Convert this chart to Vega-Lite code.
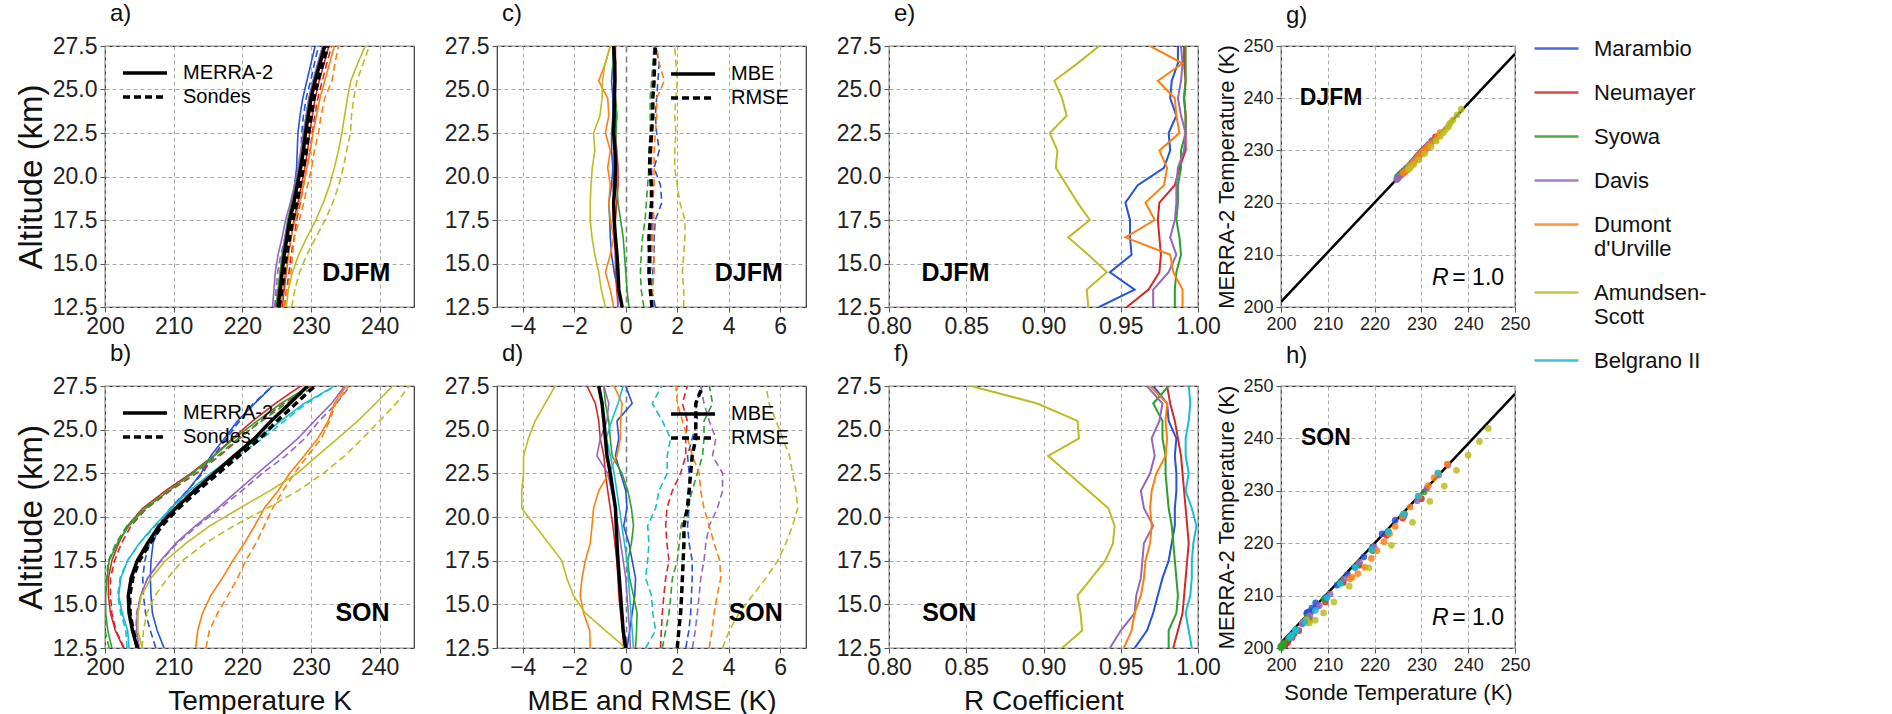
{
"$schema": "https://vega.github.io/schema/vega-lite/v6.json",
"background": "white",
"padding": {"left": 14, "top": 1, "right": 5, "bottom": 2},
"autosize": {"type": "pad"},
"datasets": {
"fit": [{"sx": 200, "fit": 201.0}, {"sx": 250, "fit": 248.5}],
"prof": [
{"season":"DJFM","station":"Marambio","alt":12.5,"merra":225.3,"sonde":225.4,"mbe":-0.14,"rmse":1.15,"r":0.936},
{"season":"DJFM","station":"Marambio","alt":13.5,"merra":225.5,"sonde":225.8,"mbe":-0.3,"rmse":1.0,"r":0.959},
{"season":"DJFM","station":"Marambio","alt":14.5,"merra":225.7,"sonde":226.15,"mbe":-0.45,"rmse":1.05,"r":0.943},
{"season":"DJFM","station":"Marambio","alt":15.5,"merra":226.0,"sonde":226.55,"mbe":-0.55,"rmse":1.1,"r":0.957},
{"season":"DJFM","station":"Marambio","alt":16.5,"merra":226.3,"sonde":226.9,"mbe":-0.6,"rmse":1.1,"r":0.956},
{"season":"DJFM","station":"Marambio","alt":17.5,"merra":226.7,"sonde":227.3,"mbe":-0.62,"rmse":1.15,"r":0.956},
{"season":"DJFM","station":"Marambio","alt":18.5,"merra":227.2,"sonde":227.85,"mbe":-0.66,"rmse":1.4,"r":0.953},
{"season":"DJFM","station":"Marambio","alt":19.5,"merra":227.6,"sonde":228.15,"mbe":-0.55,"rmse":1.35,"r":0.961},
{"season":"DJFM","station":"Marambio","alt":20.5,"merra":227.9,"sonde":228.4,"mbe":-0.5,"rmse":1.1,"r":0.978},
{"season":"DJFM","station":"Marambio","alt":21.5,"merra":228.0,"sonde":228.55,"mbe":-0.55,"rmse":1.3,"r":0.982},
{"season":"DJFM","station":"Marambio","alt":22.5,"merra":228.1,"sonde":228.65,"mbe":-0.55,"rmse":1.2,"r":0.981},
{"season":"DJFM","station":"Marambio","alt":23.5,"merra":228.4,"sonde":228.9,"mbe":-0.5,"rmse":1.15,"r":0.986},
{"season":"DJFM","station":"Marambio","alt":24.5,"merra":228.8,"sonde":229.3,"mbe":-0.5,"rmse":1.2,"r":0.982},
{"season":"DJFM","station":"Marambio","alt":25.5,"merra":229.4,"sonde":229.95,"mbe":-0.55,"rmse":1.25,"r":0.983},
{"season":"DJFM","station":"Marambio","alt":26.5,"merra":230.0,"sonde":230.5,"mbe":-0.5,"rmse":1.3,"r":0.987},
{"season":"DJFM","station":"Marambio","alt":27.5,"merra":230.6,"sonde":231.1,"mbe":-0.5,"rmse":1.15,"r":0.987},
{"season":"DJFM","station":"Neumayer","alt":12.5,"merra":225.8,"sonde":226.1,"mbe":-0.3,"rmse":1.0,"r":0.954},
{"season":"DJFM","station":"Neumayer","alt":13.5,"merra":226.1,"sonde":226.45,"mbe":-0.35,"rmse":0.95,"r":0.968},
{"season":"DJFM","station":"Neumayer","alt":14.5,"merra":226.4,"sonde":226.8,"mbe":-0.4,"rmse":0.95,"r":0.975},
{"season":"DJFM","station":"Neumayer","alt":15.5,"merra":226.7,"sonde":227.1,"mbe":-0.4,"rmse":1.0,"r":0.976},
{"season":"DJFM","station":"Neumayer","alt":16.5,"merra":227.1,"sonde":227.55,"mbe":-0.45,"rmse":1.0,"r":0.975},
{"season":"DJFM","station":"Neumayer","alt":17.5,"merra":227.5,"sonde":227.9,"mbe":-0.4,"rmse":1.05,"r":0.974},
{"season":"DJFM","station":"Neumayer","alt":18.5,"merra":228.1,"sonde":228.45,"mbe":-0.35,"rmse":1.0,"r":0.975},
{"season":"DJFM","station":"Neumayer","alt":19.5,"merra":228.6,"sonde":228.9,"mbe":-0.3,"rmse":0.95,"r":0.985},
{"season":"DJFM","station":"Neumayer","alt":20.5,"merra":229.1,"sonde":229.4,"mbe":-0.3,"rmse":1.0,"r":0.988},
{"season":"DJFM","station":"Neumayer","alt":21.5,"merra":229.5,"sonde":229.85,"mbe":-0.35,"rmse":1.0,"r":0.992},
{"season":"DJFM","station":"Neumayer","alt":22.5,"merra":229.8,"sonde":230.2,"mbe":-0.4,"rmse":1.05,"r":0.992},
{"season":"DJFM","station":"Neumayer","alt":23.5,"merra":230.2,"sonde":230.55,"mbe":-0.35,"rmse":1.0,"r":0.992},
{"season":"DJFM","station":"Neumayer","alt":24.5,"merra":230.6,"sonde":231.0,"mbe":-0.4,"rmse":1.05,"r":0.991},
{"season":"DJFM","station":"Neumayer","alt":25.5,"merra":231.2,"sonde":231.65,"mbe":-0.45,"rmse":1.1,"r":0.992},
{"season":"DJFM","station":"Neumayer","alt":26.5,"merra":231.9,"sonde":232.3,"mbe":-0.4,"rmse":1.1,"r":0.991},
{"season":"DJFM","station":"Neumayer","alt":27.5,"merra":232.6,"sonde":233.0,"mbe":-0.4,"rmse":1.1,"r":0.991},
{"season":"DJFM","station":"Syowa","alt":12.5,"merra":224.9,"sonde":224.8,"mbe":0.12,"rmse":0.7,"r":0.985},
{"season":"DJFM","station":"Syowa","alt":13.5,"merra":225.2,"sonde":225.15,"mbe":0.05,"rmse":0.6,"r":0.985},
{"season":"DJFM","station":"Syowa","alt":14.5,"merra":225.5,"sonde":225.5,"mbe":0.0,"rmse":0.57,"r":0.986},
{"season":"DJFM","station":"Syowa","alt":15.5,"merra":225.8,"sonde":225.85,"mbe":-0.05,"rmse":0.6,"r":0.989},
{"season":"DJFM","station":"Syowa","alt":16.5,"merra":226.2,"sonde":226.3,"mbe":-0.1,"rmse":0.65,"r":0.988},
{"season":"DJFM","station":"Syowa","alt":17.5,"merra":226.6,"sonde":226.8,"mbe":-0.2,"rmse":0.75,"r":0.986},
{"season":"DJFM","station":"Syowa","alt":18.5,"merra":227.2,"sonde":227.5,"mbe":-0.3,"rmse":0.8,"r":0.987},
{"season":"DJFM","station":"Syowa","alt":19.5,"merra":227.7,"sonde":228.05,"mbe":-0.35,"rmse":0.85,"r":0.987},
{"season":"DJFM","station":"Syowa","alt":20.5,"merra":228.2,"sonde":228.6,"mbe":-0.4,"rmse":0.9,"r":0.989},
{"season":"DJFM","station":"Syowa","alt":21.5,"merra":228.6,"sonde":229.0,"mbe":-0.4,"rmse":0.9,"r":0.989},
{"season":"DJFM","station":"Syowa","alt":22.5,"merra":228.9,"sonde":229.3,"mbe":-0.38,"rmse":0.95,"r":0.992},
{"season":"DJFM","station":"Syowa","alt":23.5,"merra":229.3,"sonde":229.65,"mbe":-0.35,"rmse":0.95,"r":0.992},
{"season":"DJFM","station":"Syowa","alt":24.5,"merra":229.7,"sonde":230.1,"mbe":-0.4,"rmse":0.95,"r":0.991},
{"season":"DJFM","station":"Syowa","alt":25.5,"merra":230.3,"sonde":230.75,"mbe":-0.45,"rmse":1.0,"r":0.992},
{"season":"DJFM","station":"Syowa","alt":26.5,"merra":231.0,"sonde":231.5,"mbe":-0.5,"rmse":1.05,"r":0.992},
{"season":"DJFM","station":"Syowa","alt":27.5,"merra":231.7,"sonde":232.2,"mbe":-0.47,"rmse":1.1,"r":0.992},
{"season":"DJFM","station":"Davis","alt":12.5,"merra":224.4,"sonde":224.7,"mbe":-0.3,"rmse":1.0,"r":0.971},
{"season":"DJFM","station":"Davis","alt":13.5,"merra":224.6,"sonde":224.9,"mbe":-0.3,"rmse":1.0,"r":0.971},
{"season":"DJFM","station":"Davis","alt":14.5,"merra":224.8,"sonde":225.15,"mbe":-0.35,"rmse":0.95,"r":0.981},
{"season":"DJFM","station":"Davis","alt":15.5,"merra":225.2,"sonde":225.6,"mbe":-0.4,"rmse":1.0,"r":0.986},
{"season":"DJFM","station":"Davis","alt":16.5,"merra":225.8,"sonde":226.2,"mbe":-0.4,"rmse":1.0,"r":0.982},
{"season":"DJFM","station":"Davis","alt":17.5,"merra":226.3,"sonde":226.75,"mbe":-0.45,"rmse":1.05,"r":0.985},
{"season":"DJFM","station":"Davis","alt":18.5,"merra":227.0,"sonde":227.45,"mbe":-0.45,"rmse":1.0,"r":0.986},
{"season":"DJFM","station":"Davis","alt":19.5,"merra":227.6,"sonde":228.1,"mbe":-0.5,"rmse":1.05,"r":0.986},
{"season":"DJFM","station":"Davis","alt":20.5,"merra":228.1,"sonde":228.55,"mbe":-0.45,"rmse":1.0,"r":0.987},
{"season":"DJFM","station":"Davis","alt":21.5,"merra":228.5,"sonde":228.9,"mbe":-0.4,"rmse":0.95,"r":0.991},
{"season":"DJFM","station":"Davis","alt":22.5,"merra":228.9,"sonde":229.3,"mbe":-0.4,"rmse":1.0,"r":0.992},
{"season":"DJFM","station":"Davis","alt":23.5,"merra":229.3,"sonde":229.75,"mbe":-0.45,"rmse":1.05,"r":0.989},
{"season":"DJFM","station":"Davis","alt":24.5,"merra":229.7,"sonde":230.15,"mbe":-0.45,"rmse":1.05,"r":0.987},
{"season":"DJFM","station":"Davis","alt":25.5,"merra":230.3,"sonde":230.7,"mbe":-0.4,"rmse":1.1,"r":0.989},
{"season":"DJFM","station":"Davis","alt":26.5,"merra":231.0,"sonde":231.4,"mbe":-0.4,"rmse":1.1,"r":0.99},
{"season":"DJFM","station":"Davis","alt":27.5,"merra":231.7,"sonde":232.15,"mbe":-0.45,"rmse":1.15,"r":0.989},
{"season":"DJFM","station":"Dumont d'Urville","alt":12.5,"merra":225.6,"sonde":226.07,"mbe":-0.47,"rmse":1.0,"r":0.99},
{"season":"DJFM","station":"Dumont d'Urville","alt":13.5,"merra":225.9,"sonde":226.5,"mbe":-0.6,"rmse":1.05,"r":0.99},
{"season":"DJFM","station":"Dumont d'Urville","alt":14.5,"merra":226.3,"sonde":227.09,"mbe":-0.79,"rmse":1.1,"r":0.984},
{"season":"DJFM","station":"Dumont d'Urville","alt":15.5,"merra":226.7,"sonde":227.3,"mbe":-0.6,"rmse":1.1,"r":0.982},
{"season":"DJFM","station":"Dumont d'Urville","alt":16.5,"merra":227.1,"sonde":227.57,"mbe":-0.47,"rmse":1.05,"r":0.953},
{"season":"DJFM","station":"Dumont d'Urville","alt":17.5,"merra":227.7,"sonde":228.3,"mbe":-0.6,"rmse":1.1,"r":0.972},
{"season":"DJFM","station":"Dumont d'Urville","alt":18.5,"merra":228.3,"sonde":228.96,"mbe":-0.66,"rmse":1.05,"r":0.966},
{"season":"DJFM","station":"Dumont d'Urville","alt":19.5,"merra":228.9,"sonde":229.5,"mbe":-0.6,"rmse":1.1,"r":0.978},
{"season":"DJFM","station":"Dumont d'Urville","alt":20.5,"merra":229.4,"sonde":230.1,"mbe":-0.7,"rmse":1.1,"r":0.98},
{"season":"DJFM","station":"Dumont d'Urville","alt":21.5,"merra":229.9,"sonde":230.5,"mbe":-0.6,"rmse":1.1,"r":0.975},
{"season":"DJFM","station":"Dumont d'Urville","alt":22.5,"merra":230.3,"sonde":231.09,"mbe":-0.79,"rmse":1.15,"r":0.988},
{"season":"DJFM","station":"Dumont d'Urville","alt":23.5,"merra":230.8,"sonde":231.46,"mbe":-0.66,"rmse":1.2,"r":0.986},
{"season":"DJFM","station":"Dumont d'Urville","alt":24.5,"merra":231.3,"sonde":232.0,"mbe":-0.7,"rmse":1.2,"r":0.985},
{"season":"DJFM","station":"Dumont d'Urville","alt":25.5,"merra":232.0,"sonde":233.05,"mbe":-1.05,"rmse":1.5,"r":0.974},
{"season":"DJFM","station":"Dumont d'Urville","alt":26.5,"merra":232.7,"sonde":233.49,"mbe":-0.79,"rmse":1.3,"r":0.99},
{"season":"DJFM","station":"Dumont d'Urville","alt":27.5,"merra":233.4,"sonde":234.0,"mbe":-0.6,"rmse":1.2,"r":0.969},
{"season":"DJFM","station":"Amundsen-Scott","alt":12.5,"merra":226.4,"sonde":227.19,"mbe":-0.79,"rmse":2.25,"r":0.929},
{"season":"DJFM","station":"Amundsen-Scott","alt":13.5,"merra":226.7,"sonde":227.65,"mbe":-0.95,"rmse":2.25,"r":0.928},
{"season":"DJFM","station":"Amundsen-Scott","alt":14.5,"merra":227.3,"sonde":228.35,"mbe":-1.05,"rmse":2.2,"r":0.941},
{"season":"DJFM","station":"Amundsen-Scott","alt":15.5,"merra":228.2,"sonde":229.4,"mbe":-1.2,"rmse":2.25,"r":0.929},
{"season":"DJFM","station":"Amundsen-Scott","alt":16.5,"merra":229.4,"sonde":230.71,"mbe":-1.31,"rmse":2.3,"r":0.916},
{"season":"DJFM","station":"Amundsen-Scott","alt":17.5,"merra":230.7,"sonde":232.08,"mbe":-1.38,"rmse":2.3,"r":0.93},
{"season":"DJFM","station":"Amundsen-Scott","alt":18.5,"merra":231.8,"sonde":233.18,"mbe":-1.38,"rmse":2.1,"r":0.922},
{"season":"DJFM","station":"Amundsen-Scott","alt":19.5,"merra":232.7,"sonde":234.05,"mbe":-1.35,"rmse":2.0,"r":0.915},
{"season":"DJFM","station":"Amundsen-Scott","alt":20.5,"merra":233.4,"sonde":234.7,"mbe":-1.3,"rmse":1.9,"r":0.908},
{"season":"DJFM","station":"Amundsen-Scott","alt":21.5,"merra":234.0,"sonde":235.2,"mbe":-1.2,"rmse":1.9,"r":0.909},
{"season":"DJFM","station":"Amundsen-Scott","alt":22.5,"merra":234.5,"sonde":235.75,"mbe":-1.25,"rmse":1.95,"r":0.904},
{"season":"DJFM","station":"Amundsen-Scott","alt":23.5,"merra":234.9,"sonde":235.9,"mbe":-1.0,"rmse":1.9,"r":0.915},
{"season":"DJFM","station":"Amundsen-Scott","alt":24.5,"merra":235.3,"sonde":236.22,"mbe":-0.92,"rmse":1.95,"r":0.912},
{"season":"DJFM","station":"Amundsen-Scott","alt":25.5,"merra":235.8,"sonde":236.7,"mbe":-0.9,"rmse":2.0,"r":0.907},
{"season":"DJFM","station":"Amundsen-Scott","alt":26.5,"merra":236.8,"sonde":237.6,"mbe":-0.8,"rmse":1.95,"r":0.922},
{"season":"DJFM","station":"Amundsen-Scott","alt":27.5,"merra":237.9,"sonde":238.5,"mbe":-0.6,"rmse":1.9,"r":0.936},
{"season":"DJFM","station":"Mean","alt":12.5,"merra":225.2,"sonde":225.34,"mbe":-0.14,"rmse":1.02,"r":null},
{"season":"DJFM","station":"Mean","alt":13.5,"merra":225.5,"sonde":225.77,"mbe":-0.27,"rmse":0.95,"r":null},
{"season":"DJFM","station":"Mean","alt":14.5,"merra":225.8,"sonde":226.1,"mbe":-0.3,"rmse":0.9,"r":null},
{"season":"DJFM","station":"Mean","alt":15.5,"merra":226.1,"sonde":226.44,"mbe":-0.34,"rmse":0.92,"r":null},
{"season":"DJFM","station":"Mean","alt":16.5,"merra":226.5,"sonde":226.9,"mbe":-0.4,"rmse":0.9,"r":null},
{"season":"DJFM","station":"Mean","alt":17.5,"merra":226.9,"sonde":227.35,"mbe":-0.45,"rmse":0.95,"r":null},
{"season":"DJFM","station":"Mean","alt":18.5,"merra":227.5,"sonde":227.97,"mbe":-0.47,"rmse":1.0,"r":null},
{"season":"DJFM","station":"Mean","alt":19.5,"merra":228.0,"sonde":228.42,"mbe":-0.42,"rmse":1.0,"r":null},
{"season":"DJFM","station":"Mean","alt":20.5,"merra":228.5,"sonde":228.9,"mbe":-0.4,"rmse":0.92,"r":null},
{"season":"DJFM","station":"Mean","alt":21.5,"merra":228.9,"sonde":229.32,"mbe":-0.42,"rmse":0.95,"r":null},
{"season":"DJFM","station":"Mean","alt":22.5,"merra":229.2,"sonde":229.67,"mbe":-0.47,"rmse":1.0,"r":null},
{"season":"DJFM","station":"Mean","alt":23.5,"merra":229.6,"sonde":230.05,"mbe":-0.45,"rmse":1.05,"r":null},
{"season":"DJFM","station":"Mean","alt":24.5,"merra":230.0,"sonde":230.44,"mbe":-0.44,"rmse":1.05,"r":null},
{"season":"DJFM","station":"Mean","alt":25.5,"merra":230.6,"sonde":231.02,"mbe":-0.42,"rmse":1.1,"r":null},
{"season":"DJFM","station":"Mean","alt":26.5,"merra":231.3,"sonde":231.73,"mbe":-0.43,"rmse":1.12,"r":null},
{"season":"DJFM","station":"Mean","alt":27.5,"merra":232.0,"sonde":232.47,"mbe":-0.47,"rmse":1.15,"r":null},
{"season":"SON","station":"Marambio","alt":12.5,"merra":208.6,"sonde":207.4,"mbe":0.05,"rmse":2.33,"r":0.959},
{"season":"SON","station":"Marambio","alt":13.5,"merra":207.6,"sonde":206.6,"mbe":0.15,"rmse":2.45,"r":0.967},
{"season":"SON","station":"Marambio","alt":14.5,"merra":206.9,"sonde":205.9,"mbe":0.25,"rmse":2.52,"r":0.971},
{"season":"SON","station":"Marambio","alt":15.5,"merra":206.7,"sonde":205.6,"mbe":0.35,"rmse":2.55,"r":0.974},
{"season":"SON","station":"Marambio","alt":16.5,"merra":206.6,"sonde":205.5,"mbe":0.38,"rmse":2.58,"r":0.977},
{"season":"SON","station":"Marambio","alt":17.5,"merra":206.7,"sonde":205.8,"mbe":0.25,"rmse":2.58,"r":0.981},
{"season":"SON","station":"Marambio","alt":18.5,"merra":207.0,"sonde":206.5,"mbe":0.12,"rmse":2.46,"r":0.983},
{"season":"SON","station":"Marambio","alt":19.5,"merra":207.9,"sonde":207.7,"mbe":-0.08,"rmse":2.4,"r":0.985},
{"season":"SON","station":"Marambio","alt":20.5,"merra":209.6,"sonde":209.5,"mbe":0.05,"rmse":2.46,"r":0.985},
{"season":"SON","station":"Marambio","alt":21.5,"merra":212.0,"sonde":212.0,"mbe":0.0,"rmse":2.5,"r":0.986},
{"season":"SON","station":"Marambio","alt":22.5,"merra":214.0,"sonde":214.2,"mbe":-0.2,"rmse":2.46,"r":0.986},
{"season":"SON","station":"Marambio","alt":23.5,"merra":215.4,"sonde":215.8,"mbe":-0.4,"rmse":2.4,"r":0.985},
{"season":"SON","station":"Marambio","alt":24.5,"merra":217.4,"sonde":217.7,"mbe":-0.27,"rmse":2.58,"r":0.986},
{"season":"SON","station":"Marambio","alt":25.5,"merra":219.3,"sonde":219.6,"mbe":-0.34,"rmse":2.78,"r":0.981},
{"season":"SON","station":"Marambio","alt":26.5,"merra":221.8,"sonde":221.6,"mbe":0.25,"rmse":2.72,"r":0.98},
{"season":"SON","station":"Marambio","alt":27.5,"merra":224.4,"sonde":224.4,"mbe":0.0,"rmse":2.98,"r":0.971},
{"season":"SON","station":"Neumayer","alt":12.5,"merra":202.7,"sonde":202.8,"mbe":-0.08,"rmse":1.35,"r":0.984},
{"season":"SON","station":"Neumayer","alt":13.5,"merra":201.5,"sonde":201.6,"mbe":-0.12,"rmse":1.38,"r":0.987},
{"season":"SON","station":"Neumayer","alt":14.5,"merra":200.8,"sonde":201.0,"mbe":-0.2,"rmse":1.42,"r":0.99},
{"season":"SON","station":"Neumayer","alt":15.5,"merra":200.5,"sonde":200.8,"mbe":-0.27,"rmse":1.48,"r":0.991},
{"season":"SON","station":"Neumayer","alt":16.5,"merra":200.5,"sonde":200.8,"mbe":-0.3,"rmse":1.55,"r":0.992},
{"season":"SON","station":"Neumayer","alt":17.5,"merra":201.0,"sonde":201.4,"mbe":-0.35,"rmse":1.68,"r":0.993},
{"season":"SON","station":"Neumayer","alt":18.5,"merra":202.0,"sonde":202.4,"mbe":-0.42,"rmse":1.6,"r":0.994},
{"season":"SON","station":"Neumayer","alt":19.5,"merra":203.3,"sonde":203.8,"mbe":-0.5,"rmse":1.55,"r":0.993},
{"season":"SON","station":"Neumayer","alt":20.5,"merra":205.5,"sonde":206.1,"mbe":-0.6,"rmse":1.6,"r":0.992},
{"season":"SON","station":"Neumayer","alt":21.5,"merra":208.8,"sonde":209.5,"mbe":-0.7,"rmse":1.81,"r":0.991},
{"season":"SON","station":"Neumayer","alt":22.5,"merra":212.5,"sonde":213.3,"mbe":-0.79,"rmse":2.13,"r":0.99},
{"season":"SON","station":"Neumayer","alt":23.5,"merra":215.8,"sonde":216.7,"mbe":-0.85,"rmse":2.33,"r":0.989},
{"season":"SON","station":"Neumayer","alt":24.5,"merra":218.6,"sonde":219.6,"mbe":-0.99,"rmse":2.33,"r":0.987},
{"season":"SON","station":"Neumayer","alt":25.5,"merra":221.5,"sonde":222.6,"mbe":-1.05,"rmse":2.39,"r":0.985},
{"season":"SON","station":"Neumayer","alt":26.5,"merra":224.8,"sonde":226.0,"mbe":-1.18,"rmse":2.2,"r":0.982},
{"season":"SON","station":"Neumayer","alt":27.5,"merra":228.5,"sonde":230.0,"mbe":-1.5,"rmse":2.39,"r":0.98},
{"season":"SON","station":"Syowa","alt":12.5,"merra":201.0,"sonde":200.6,"mbe":0.38,"rmse":1.42,"r":0.981},
{"season":"SON","station":"Syowa","alt":13.5,"merra":200.4,"sonde":200.0,"mbe":0.42,"rmse":1.55,"r":0.981},
{"season":"SON","station":"Syowa","alt":14.5,"merra":200.1,"sonde":200.0,"mbe":0.44,"rmse":1.68,"r":0.986},
{"season":"SON","station":"Syowa","alt":15.5,"merra":200.1,"sonde":200.0,"mbe":0.3,"rmse":1.75,"r":0.987},
{"season":"SON","station":"Syowa","alt":16.5,"merra":200.3,"sonde":200.2,"mbe":0.15,"rmse":1.81,"r":0.986},
{"season":"SON","station":"Syowa","alt":17.5,"merra":200.6,"sonde":200.5,"mbe":0.08,"rmse":2.0,"r":0.985},
{"season":"SON","station":"Syowa","alt":18.5,"merra":201.8,"sonde":201.6,"mbe":0.22,"rmse":2.08,"r":0.984},
{"season":"SON","station":"Syowa","alt":19.5,"merra":203.5,"sonde":203.2,"mbe":0.3,"rmse":2.15,"r":0.983},
{"season":"SON","station":"Syowa","alt":20.5,"merra":205.9,"sonde":205.7,"mbe":0.22,"rmse":2.39,"r":0.981},
{"season":"SON","station":"Syowa","alt":21.5,"merra":209.3,"sonde":209.2,"mbe":0.08,"rmse":2.58,"r":0.98},
{"season":"SON","station":"Syowa","alt":22.5,"merra":212.7,"sonde":212.9,"mbe":-0.15,"rmse":2.78,"r":0.979},
{"season":"SON","station":"Syowa","alt":23.5,"merra":215.9,"sonde":216.4,"mbe":-0.53,"rmse":2.98,"r":0.979},
{"season":"SON","station":"Syowa","alt":24.5,"merra":218.8,"sonde":219.4,"mbe":-0.6,"rmse":3.04,"r":0.977},
{"season":"SON","station":"Syowa","alt":25.5,"merra":222.2,"sonde":222.9,"mbe":-0.66,"rmse":3.04,"r":0.977},
{"season":"SON","station":"Syowa","alt":26.5,"merra":225.6,"sonde":226.4,"mbe":-0.79,"rmse":3.37,"r":0.971},
{"season":"SON","station":"Syowa","alt":27.5,"merra":229.8,"sonde":230.6,"mbe":-0.85,"rmse":3.25,"r":0.981},
{"season":"SON","station":"Davis","alt":12.5,"merra":205.0,"sonde":204.8,"mbe":0.18,"rmse":2.59,"r":0.943},
{"season":"SON","station":"Davis","alt":13.5,"merra":204.6,"sonde":204.5,"mbe":0.15,"rmse":2.7,"r":0.95},
{"season":"SON","station":"Davis","alt":14.5,"merra":204.7,"sonde":204.6,"mbe":0.1,"rmse":2.78,"r":0.959},
{"season":"SON","station":"Davis","alt":15.5,"merra":205.2,"sonde":205.2,"mbe":0.05,"rmse":2.85,"r":0.96},
{"season":"SON","station":"Davis","alt":16.5,"merra":206.2,"sonde":206.2,"mbe":0.0,"rmse":2.91,"r":0.963},
{"season":"SON","station":"Davis","alt":17.5,"merra":208.1,"sonde":208.2,"mbe":-0.1,"rmse":3.04,"r":0.964},
{"season":"SON","station":"Davis","alt":18.5,"merra":210.3,"sonde":210.5,"mbe":-0.2,"rmse":3.11,"r":0.965},
{"season":"SON","station":"Davis","alt":19.5,"merra":213.2,"sonde":213.5,"mbe":-0.3,"rmse":3.24,"r":0.971},
{"season":"SON","station":"Davis","alt":20.5,"merra":216.4,"sonde":216.8,"mbe":-0.4,"rmse":3.56,"r":0.965},
{"season":"SON","station":"Davis","alt":21.5,"merra":219.3,"sonde":219.9,"mbe":-0.55,"rmse":3.76,"r":0.963},
{"season":"SON","station":"Davis","alt":22.5,"merra":222.2,"sonde":222.9,"mbe":-0.7,"rmse":3.76,"r":0.969},
{"season":"SON","station":"Davis","alt":23.5,"merra":225.2,"sonde":226.3,"mbe":-1.12,"rmse":3.37,"r":0.972},
{"season":"SON","station":"Davis","alt":24.5,"merra":228.1,"sonde":229.1,"mbe":-0.99,"rmse":3.5,"r":0.97},
{"season":"SON","station":"Davis","alt":25.5,"merra":230.5,"sonde":231.2,"mbe":-0.73,"rmse":3.24,"r":0.975},
{"season":"SON","station":"Davis","alt":26.5,"merra":233.0,"sonde":233.7,"mbe":-0.66,"rmse":3.04,"r":0.977},
{"season":"SON","station":"Davis","alt":27.5,"merra":234.9,"sonde":235.7,"mbe":-0.85,"rmse":2.91,"r":0.967},
{"season":"SON","station":"Dumont d'Urville","alt":12.5,"merra":213.2,"sonde":214.7,"mbe":-1.38,"rmse":3.24,"r":0.952},
{"season":"SON","station":"Dumont d'Urville","alt":13.5,"merra":213.5,"sonde":215.2,"mbe":-1.4,"rmse":3.35,"r":0.957},
{"season":"SON","station":"Dumont d'Urville","alt":14.5,"merra":214.2,"sonde":216.4,"mbe":-1.64,"rmse":3.43,"r":0.959},
{"season":"SON","station":"Dumont d'Urville","alt":15.5,"merra":215.4,"sonde":217.9,"mbe":-1.77,"rmse":3.55,"r":0.963},
{"season":"SON","station":"Dumont d'Urville","alt":16.5,"merra":217.1,"sonde":219.3,"mbe":-1.7,"rmse":3.69,"r":0.965},
{"season":"SON","station":"Dumont d'Urville","alt":17.5,"merra":218.6,"sonde":220.5,"mbe":-1.57,"rmse":3.65,"r":0.966},
{"season":"SON","station":"Dumont d'Urville","alt":18.5,"merra":220.3,"sonde":222.0,"mbe":-1.38,"rmse":3.43,"r":0.969},
{"season":"SON","station":"Dumont d'Urville","alt":19.5,"merra":221.8,"sonde":223.2,"mbe":-1.31,"rmse":3.24,"r":0.97},
{"season":"SON","station":"Dumont d'Urville","alt":20.5,"merra":223.2,"sonde":224.4,"mbe":-1.25,"rmse":3.04,"r":0.969},
{"season":"SON","station":"Dumont d'Urville","alt":21.5,"merra":225.2,"sonde":225.9,"mbe":-1.05,"rmse":2.91,"r":0.97},
{"season":"SON","station":"Dumont d'Urville","alt":22.5,"merra":226.9,"sonde":227.6,"mbe":-0.66,"rmse":2.85,"r":0.973},
{"season":"SON","station":"Dumont d'Urville","alt":23.5,"merra":229.0,"sonde":229.5,"mbe":-0.34,"rmse":2.59,"r":0.979},
{"season":"SON","station":"Dumont d'Urville","alt":24.5,"merra":231.0,"sonde":231.5,"mbe":-0.21,"rmse":2.4,"r":0.98},
{"season":"SON","station":"Dumont d'Urville","alt":25.5,"merra":232.5,"sonde":232.7,"mbe":-0.2,"rmse":2.2,"r":0.979},
{"season":"SON","station":"Dumont d'Urville","alt":26.5,"merra":233.4,"sonde":233.6,"mbe":-0.14,"rmse":2.0,"r":0.98},
{"season":"SON","station":"Dumont d'Urville","alt":27.5,"merra":235.1,"sonde":235.5,"mbe":-0.45,"rmse":1.95,"r":0.969},
{"season":"SON","station":"Amundsen-Scott","alt":12.5,"merra":205.4,"sonde":205.4,"mbe":0.0,"rmse":3.76,"r":0.912},
{"season":"SON","station":"Amundsen-Scott","alt":13.5,"merra":204.8,"sonde":205.6,"mbe":-0.79,"rmse":4.02,"r":0.925},
{"season":"SON","station":"Amundsen-Scott","alt":14.5,"merra":204.8,"sonde":206.1,"mbe":-1.57,"rmse":4.4,"r":0.924},
{"season":"SON","station":"Amundsen-Scott","alt":15.5,"merra":205.3,"sonde":207.3,"mbe":-2.03,"rmse":4.92,"r":0.922},
{"season":"SON","station":"Amundsen-Scott","alt":16.5,"merra":206.7,"sonde":209.1,"mbe":-2.29,"rmse":5.44,"r":0.931},
{"season":"SON","station":"Amundsen-Scott","alt":17.5,"merra":208.8,"sonde":211.3,"mbe":-2.48,"rmse":5.9,"r":0.94},
{"season":"SON","station":"Amundsen-Scott","alt":18.5,"merra":211.8,"sonde":214.6,"mbe":-3.0,"rmse":6.22,"r":0.945},
{"season":"SON","station":"Amundsen-Scott","alt":19.5,"merra":215.3,"sonde":218.8,"mbe":-3.52,"rmse":6.48,"r":0.946},
{"season":"SON","station":"Amundsen-Scott","alt":20.5,"merra":219.6,"sonde":223.6,"mbe":-4.04,"rmse":6.68,"r":0.942},
{"season":"SON","station":"Amundsen-Scott","alt":21.5,"merra":224.0,"sonde":228.1,"mbe":-4.04,"rmse":6.61,"r":0.929},
{"season":"SON","station":"Amundsen-Scott","alt":22.5,"merra":228.0,"sonde":231.8,"mbe":-3.97,"rmse":6.48,"r":0.916},
{"season":"SON","station":"Amundsen-Scott","alt":23.5,"merra":230.9,"sonde":234.9,"mbe":-3.97,"rmse":6.36,"r":0.903},
{"season":"SON","station":"Amundsen-Scott","alt":24.5,"merra":233.9,"sonde":237.5,"mbe":-3.78,"rmse":6.1,"r":0.923},
{"season":"SON","station":"Amundsen-Scott","alt":25.5,"merra":236.8,"sonde":240.0,"mbe":-3.52,"rmse":5.84,"r":0.922},
{"season":"SON","station":"Amundsen-Scott","alt":26.5,"merra":239.4,"sonde":242.4,"mbe":-3.13,"rmse":5.57,"r":0.896},
{"season":"SON","station":"Amundsen-Scott","alt":27.5,"merra":241.9,"sonde":244.3,"mbe":-2.74,"rmse":5.44,"r":0.853},
{"season":"SON","station":"Belgrano II","alt":12.5,"merra":203.5,"sonde":203.2,"mbe":0.3,"rmse":0.77,"r":0.996},
{"season":"SON","station":"Belgrano II","alt":13.5,"merra":203.3,"sonde":203.05,"mbe":0.25,"rmse":1.16,"r":0.994},
{"season":"SON","station":"Belgrano II","alt":14.5,"merra":202.5,"sonde":202.3,"mbe":0.2,"rmse":1.05,"r":0.992},
{"season":"SON","station":"Belgrano II","alt":15.5,"merra":202.0,"sonde":201.85,"mbe":0.15,"rmse":1.0,"r":0.995},
{"season":"SON","station":"Belgrano II","alt":16.5,"merra":202.3,"sonde":202.2,"mbe":0.1,"rmse":0.77,"r":0.996},
{"season":"SON","station":"Belgrano II","alt":17.5,"merra":203.3,"sonde":203.25,"mbe":0.05,"rmse":0.85,"r":0.996},
{"season":"SON","station":"Belgrano II","alt":18.5,"merra":205.0,"sonde":205.05,"mbe":-0.05,"rmse":0.9,"r":0.997},
{"season":"SON","station":"Belgrano II","alt":19.5,"merra":207.2,"sonde":207.35,"mbe":-0.15,"rmse":0.85,"r":0.999},
{"season":"SON","station":"Belgrano II","alt":20.5,"merra":209.6,"sonde":209.85,"mbe":-0.25,"rmse":1.16,"r":0.996},
{"season":"SON","station":"Belgrano II","alt":21.5,"merra":212.3,"sonde":212.65,"mbe":-0.35,"rmse":1.29,"r":0.992},
{"season":"SON","station":"Belgrano II","alt":22.5,"merra":215.4,"sonde":215.85,"mbe":-0.45,"rmse":1.61,"r":0.994},
{"season":"SON","station":"Belgrano II","alt":23.5,"merra":218.8,"sonde":219.4,"mbe":-0.6,"rmse":1.61,"r":0.992},
{"season":"SON","station":"Belgrano II","alt":24.5,"merra":222.2,"sonde":222.95,"mbe":-0.75,"rmse":1.74,"r":0.992},
{"season":"SON","station":"Belgrano II","alt":25.5,"merra":225.6,"sonde":226.15,"mbe":-0.55,"rmse":1.42,"r":0.994},
{"season":"SON","station":"Belgrano II","alt":26.5,"merra":229.0,"sonde":229.3,"mbe":-0.3,"rmse":1.03,"r":0.995},
{"season":"SON","station":"Belgrano II","alt":27.5,"merra":233.4,"sonde":233.5,"mbe":-0.1,"rmse":1.4,"r":0.994},
{"season":"SON","station":"Mean","alt":12.5,"merra":204.7,"sonde":204.7,"mbe":0.0,"rmse":2.0,"r":null},
{"season":"SON","station":"Mean","alt":13.5,"merra":204.0,"sonde":204.1,"mbe":-0.1,"rmse":2.06,"r":null},
{"season":"SON","station":"Mean","alt":14.5,"merra":203.5,"sonde":203.65,"mbe":-0.15,"rmse":2.13,"r":null},
{"season":"SON","station":"Mean","alt":15.5,"merra":203.4,"sonde":203.6,"mbe":-0.2,"rmse":2.17,"r":null},
{"season":"SON","station":"Mean","alt":16.5,"merra":203.8,"sonde":204.05,"mbe":-0.25,"rmse":2.2,"r":null},
{"season":"SON","station":"Mean","alt":17.5,"merra":204.7,"sonde":205.0,"mbe":-0.3,"rmse":2.23,"r":null},
{"season":"SON","station":"Mean","alt":18.5,"merra":206.2,"sonde":206.55,"mbe":-0.34,"rmse":2.26,"r":null},
{"season":"SON","station":"Mean","alt":19.5,"merra":207.9,"sonde":208.3,"mbe":-0.37,"rmse":2.26,"r":null},
{"season":"SON","station":"Mean","alt":20.5,"merra":210.3,"sonde":210.7,"mbe":-0.4,"rmse":2.39,"r":null},
{"season":"SON","station":"Mean","alt":21.5,"merra":213.0,"sonde":213.5,"mbe":-0.5,"rmse":2.46,"r":null},
{"season":"SON","station":"Mean","alt":22.5,"merra":215.9,"sonde":216.5,"mbe":-0.6,"rmse":2.52,"r":null},
{"season":"SON","station":"Mean","alt":23.5,"merra":218.8,"sonde":219.5,"mbe":-0.73,"rmse":2.58,"r":null},
{"season":"SON","station":"Mean","alt":24.5,"merra":221.8,"sonde":222.6,"mbe":-0.79,"rmse":2.72,"r":null},
{"season":"SON","station":"Mean","alt":25.5,"merra":224.2,"sonde":225.05,"mbe":-0.85,"rmse":2.72,"r":null},
{"season":"SON","station":"Mean","alt":26.5,"merra":226.9,"sonde":227.8,"mbe":-0.92,"rmse":2.72,"r":null},
{"season":"SON","station":"Mean","alt":27.5,"merra":229.5,"sonde":230.55,"mbe":-1.05,"rmse":2.98,"r":null}
]},
"bounds": "flush",
"columns": 4,
"spacing": {"row": 79, "column": 83},
"resolve": {"scale": {"strokeDash": "independent"}, "legend": {"strokeDash": "independent"}},
"concat": [
  {"width": 309, "height": 261,
   "title": {"text": "a)", "anchor": "start", "frame": "group", "fontSize": 24, "fontWeight": "normal", "offset": 9, "dx": 5},
   "layer": [
    {"data": {"name": "prof"},
     "transform": [{"filter": "datum.season == 'DJFM' && datum.station != 'Mean'"}, {"fold": ["merra", "sonde"], "as": ["src", "temp"]}],
     "mark": {"type": "line", "strokeWidth": 1.6, "clip": true},
     "encoding": {
      "x": {"field": "temp", "type": "quantitative", "scale": {"domain": [200, 245], "nice": false, "zero": false},
            "axis": {"title": null, "values": [200,205,210,215,220,225,230,235,240,245], "labelExpr": "datum.value % 10 == 0 ? datum.label : ''",
                     "gridDash": {"condition": {"test": "datum.value % 10 == 0", "value": [4,3]}, "value": [1,0]},
                     "gridColor": {"condition": {"test": "datum.value % 10 == 0", "value": "#aaaaaa"}, "value": "#e6e6e6"},
                     "tickSize": {"condition": {"test": "datum.value % 10 == 0", "value": 5}, "value": 3}}},
      "y": {"field": "alt", "type": "quantitative", "scale": {"domain": [12.5, 27.5], "nice": false, "zero": false},
            "axis": {"title": "Altitude (km)", "titleFontSize": 33, "titlePadding": 4, "values": [12.5,13.75,15,16.25,17.5,18.75,20,21.25,22.5,23.75,25,26.25,27.5], "format": ".1f",
                     "labelExpr": "datum.value % 2.5 == 0 ? datum.label : ''",
                     "gridDash": {"condition": {"test": "datum.value % 2.5 == 0", "value": [4,3]}, "value": [1,0]},
                     "gridColor": {"condition": {"test": "datum.value % 2.5 == 0", "value": "#aaaaaa"}, "value": "#e6e6e6"},
                     "tickSize": {"condition": {"test": "datum.value % 2.5 == 0", "value": 5}, "value": 3}}},
      "color": {"field": "station", "type": "nominal",
                "scale": {"domain": ["Marambio","Neumayer","Syowa","Davis","Dumont d'Urville","Amundsen-Scott","Belgrano II"], "range": ["#2553d9","#d62728","#2ca02c","#9467bd","#ff7f0e","#bcbd22","#17becf"]},
                "legend": {"title": null, "orient": "none", "legendX": 1428, "legendY": -21, "symbolType": "stroke", "symbolSize": 1936, "symbolStrokeWidth": 2.5, "labelFontSize": 22, "labelColor": "#111", "labelOffset": 14, "rowPadding": 9, "labelLimit": 300,
                           "labelExpr": "datum.value == \"Dumont d'Urville\" ? ['Dumont', \"d'Urville\"] : datum.value == 'Amundsen-Scott' ? ['Amundsen-', 'Scott'] : datum.label"}},
      "strokeDash": {"field": "src", "type": "nominal", "scale": {"domain": ["merra", "sonde"], "range": [[1,0],[7,4]]},
                     "legend": {"title": null, "orient": "top-left", "offset": 16, "clipHeight": 22, "symbolType": "stroke", "symbolSize": 1936, "symbolStrokeWidth": 3.5, "symbolStrokeColor": "black", "labelFontSize": 20, "labelOffset": 14, "rowPadding": 2, "labelExpr": "datum.value == 'merra' ? 'MERRA-2' : 'Sondes'"}},
      "order": {"field": "alt", "type": "quantitative"}
     }},
    {"data": {"name": "prof"},
     "transform": [{"filter": "datum.season == 'DJFM' && datum.station == 'Mean'"}, {"fold": ["merra", "sonde"], "as": ["src", "temp"]}],
     "mark": {"type": "line", "strokeWidth": 3.5, "color": "black", "clip": true},
     "encoding": {
      "x": {"field": "temp", "type": "quantitative"},
      "y": {"field": "alt", "type": "quantitative"},
      "strokeDash": {"field": "src", "type": "nominal"},
      "order": {"field": "alt", "type": "quantitative"}
     }},
    {"data": {"values": [{"label": "DJFM"}]},
     "mark": {"type": "text", "fontSize": 25, "fontWeight": "bold", "color": "black"},
     "encoding": {"x": {"datum": 236.6}, "y": {"datum": 14.45}, "text": {"field": "label"}}}
   ]},
  {"width": 309, "height": 261,
   "title": {"text": "c)", "anchor": "start", "frame": "group", "fontSize": 24, "fontWeight": "normal", "offset": 9, "dx": 5},
   "layer": [
    {"data": {"name": "prof"},
     "transform": [{"filter": "datum.season == 'DJFM' && datum.station != 'Mean'"}, {"fold": ["mbe", "rmse"], "as": ["metric", "val"]}],
     "mark": {"type": "line", "strokeWidth": 1.6, "clip": true},
     "encoding": {
      "x": {"field": "val", "type": "quantitative", "scale": {"domain": [-5, 7], "nice": false, "zero": false},
            "axis": {"title": null, "values": [-4,-2,0,2,4,6], "format": "d",
                     "gridDash": {"condition": {"test": "datum.value == 0", "value": [6,4]}, "value": [4,3]},
                     "gridWidth": {"condition": {"test": "datum.value == 0", "value": 1.6}, "value": 1},
                     "gridColor": {"condition": {"test": "datum.value == 0", "value": "#808080"}, "value": "#aaaaaa"},
                     "tickSize": 5}},
      "y": {"field": "alt", "type": "quantitative", "scale": {"domain": [12.5, 27.5], "nice": false, "zero": false},
            "axis": {"title": null, "values": [12.5,13.75,15,16.25,17.5,18.75,20,21.25,22.5,23.75,25,26.25,27.5], "format": ".1f",
                     "labelExpr": "datum.value % 2.5 == 0 ? datum.label : ''",
                     "gridDash": {"condition": {"test": "datum.value % 2.5 == 0", "value": [4,3]}, "value": [1,0]},
                     "gridColor": {"condition": {"test": "datum.value % 2.5 == 0", "value": "#aaaaaa"}, "value": "#e6e6e6"},
                     "tickSize": {"condition": {"test": "datum.value % 2.5 == 0", "value": 5}, "value": 3}}},
      "color": {"field": "station", "type": "nominal",
                "scale": {"domain": ["Marambio","Neumayer","Syowa","Davis","Dumont d'Urville","Amundsen-Scott","Belgrano II"], "range": ["#2553d9","#d62728","#2ca02c","#9467bd","#ff7f0e","#bcbd22","#17becf"]},
                "legend": {"title": null, "orient": "none", "legendX": 1428, "legendY": -21, "symbolType": "stroke", "symbolSize": 1936, "symbolStrokeWidth": 2.5, "labelFontSize": 22, "labelColor": "#111", "labelOffset": 14, "rowPadding": 9, "labelLimit": 300,
                           "labelExpr": "datum.value == \"Dumont d'Urville\" ? ['Dumont', \"d'Urville\"] : datum.value == 'Amundsen-Scott' ? ['Amundsen-', 'Scott'] : datum.label"}},
      "strokeDash": {"field": "metric", "type": "nominal", "scale": {"domain": ["mbe", "rmse"], "range": [[1,0],[7,4]]},
                     "legend": {"title": null, "orient": "top-right", "offset": 17, "clipHeight": 22, "symbolType": "stroke", "symbolSize": 1936, "symbolStrokeWidth": 3.5, "symbolStrokeColor": "black", "labelFontSize": 20, "labelOffset": 14, "rowPadding": 2, "labelExpr": "upper(datum.value)"}},
      "order": {"field": "alt", "type": "quantitative"}
     }},
    {"data": {"name": "prof"},
     "transform": [{"filter": "datum.season == 'DJFM' && datum.station == 'Mean'"}, {"fold": ["mbe", "rmse"], "as": ["metric", "val"]}],
     "mark": {"type": "line", "strokeWidth": 3.5, "color": "black", "clip": true},
     "encoding": {
      "x": {"field": "val", "type": "quantitative"},
      "y": {"field": "alt", "type": "quantitative"},
      "strokeDash": {"field": "metric", "type": "nominal"},
      "order": {"field": "alt", "type": "quantitative"}
     }},
    {"data": {"values": [{"label": "DJFM"}]},
     "mark": {"type": "text", "fontSize": 25, "fontWeight": "bold", "color": "black"},
     "encoding": {"x": {"datum": 4.78}, "y": {"datum": 14.45}, "text": {"field": "label"}}}
   ]},
  {"width": 309, "height": 261,
   "title": {"text": "e)", "anchor": "start", "frame": "group", "fontSize": 24, "fontWeight": "normal", "offset": 9, "dx": 5},
   "layer": [
    {"data": {"name": "prof"},
     "transform": [{"filter": "datum.season == 'DJFM' && datum.station != 'Mean'"}],
     "mark": {"type": "line", "strokeWidth": 2, "clip": true},
     "encoding": {
      "x": {"field": "r", "type": "quantitative", "scale": {"domain": [0.8, 1.0], "nice": false, "zero": false},
            "axis": {"title": null, "format": ".2f", "values": [0.8,0.825,0.85,0.875,0.9,0.925,0.95,0.975,1.0], "labelExpr": "abs(datum.value*20 - round(datum.value*20)) < 0.001 ? datum.label : ''",
                     "gridDash": {"condition": {"test": "abs(datum.value*20 - round(datum.value*20)) < 0.001", "value": [4,3]}, "value": [1,0]},
                     "gridColor": {"condition": {"test": "abs(datum.value*20 - round(datum.value*20)) < 0.001", "value": "#aaaaaa"}, "value": "#e6e6e6"},
                     "tickSize": {"condition": {"test": "abs(datum.value*20 - round(datum.value*20)) < 0.001", "value": 5}, "value": 3}}},
      "y": {"field": "alt", "type": "quantitative", "scale": {"domain": [12.5, 27.5], "nice": false, "zero": false},
            "axis": {"title": null, "values": [12.5,13.75,15,16.25,17.5,18.75,20,21.25,22.5,23.75,25,26.25,27.5], "format": ".1f",
                     "labelExpr": "datum.value % 2.5 == 0 ? datum.label : ''",
                     "gridDash": {"condition": {"test": "datum.value % 2.5 == 0", "value": [4,3]}, "value": [1,0]},
                     "gridColor": {"condition": {"test": "datum.value % 2.5 == 0", "value": "#aaaaaa"}, "value": "#e6e6e6"},
                     "tickSize": {"condition": {"test": "datum.value % 2.5 == 0", "value": 5}, "value": 3}}},
      "color": {"field": "station", "type": "nominal",
                "scale": {"domain": ["Marambio","Neumayer","Syowa","Davis","Dumont d'Urville","Amundsen-Scott","Belgrano II"], "range": ["#2553d9","#d62728","#2ca02c","#9467bd","#ff7f0e","#bcbd22","#17becf"]},
                "legend": {"title": null, "orient": "none", "legendX": 1428, "legendY": -21, "symbolType": "stroke", "symbolSize": 1936, "symbolStrokeWidth": 2.5, "labelFontSize": 22, "labelColor": "#111", "labelOffset": 14, "rowPadding": 9, "labelLimit": 300,
                           "labelExpr": "datum.value == \"Dumont d'Urville\" ? ['Dumont', \"d'Urville\"] : datum.value == 'Amundsen-Scott' ? ['Amundsen-', 'Scott'] : datum.label"}},
      "order": {"field": "alt", "type": "quantitative"}
     }},
    {"data": {"values": [{"label": "DJFM"}]},
     "mark": {"type": "text", "fontSize": 25, "fontWeight": "bold", "color": "black"},
     "encoding": {"x": {"datum": 0.843}, "y": {"datum": 14.45}, "text": {"field": "label"}}}
   ]},
 {"width": 234, "height": 261,
  "title": {"text": "g)", "anchor": "start", "frame": "group", "fontSize": 24, "fontWeight": "normal", "offset": 9, "dx": 5},
  "layer": [
   {"data": {"name": "fit"},
    "mark": {"type": "line", "color": "black", "strokeWidth": 2.5, "clip": true},
    "encoding": {
     "x": {"field": "sx", "type": "quantitative", "scale": {"domain": [200, 250], "nice": false, "zero": false},
           "axis": {"title": null, "labelFontSize": 18, "values": [200,205,210,215,220,225,230,235,240,245,250], "labelExpr": "datum.value % 10 == 0 ? datum.label : ''",
                    "gridDash": {"condition": {"test": "datum.value % 10 == 0", "value": [4,3]}, "value": [1,0]},
                    "gridColor": {"condition": {"test": "datum.value % 10 == 0", "value": "#aaaaaa"}, "value": "#e6e6e6"},
                    "tickSize": {"condition": {"test": "datum.value % 10 == 0", "value": 5}, "value": 3}}},
     "y": {"field": "fit", "type": "quantitative", "scale": {"domain": [200, 250], "nice": false, "zero": false},
           "axis": {"title": "MERRA-2 Temperature (K)", "titleFontSize": 22, "titlePadding": 4, "labelFontSize": 18, "values": [200,205,210,215,220,225,230,235,240,245,250], "labelExpr": "datum.value % 10 == 0 ? datum.label : ''",
                    "gridDash": {"condition": {"test": "datum.value % 10 == 0", "value": [4,3]}, "value": [1,0]},
                    "gridColor": {"condition": {"test": "datum.value % 10 == 0", "value": "#aaaaaa"}, "value": "#e6e6e6"},
                    "tickSize": {"condition": {"test": "datum.value % 10 == 0", "value": 5}, "value": 3}}}
    }},
   {"data": {"name": "prof"},
    "transform": [{"filter": "datum.season == 'DJFM' && datum.station != 'Mean'"}],
    "mark": {"type": "point", "filled": true, "size": 45, "opacity": 0.85},
    "encoding": {
     "x": {"field": "sonde", "type": "quantitative"},
     "y": {"field": "merra", "type": "quantitative"},
     "color": {"field": "station", "type": "nominal",
               "scale": {"domain": ["Marambio","Neumayer","Syowa","Davis","Dumont d'Urville","Amundsen-Scott","Belgrano II"], "range": ["#2553d9","#d62728","#2ca02c","#9467bd","#ff7f0e","#bcbd22","#17becf"]},
               "legend": {"title": null, "orient": "none", "legendX": 1428, "legendY": -21, "symbolType": "stroke", "symbolSize": 1936, "symbolStrokeWidth": 2.5, "labelFontSize": 22, "labelColor": "#111", "labelOffset": 14, "rowPadding": 9, "labelLimit": 300,
                          "labelExpr": "datum.value == \"Dumont d'Urville\" ? ['Dumont', \"d'Urville\"] : datum.value == 'Amundsen-Scott' ? ['Amundsen-', 'Scott'] : datum.label"}}
    }},
   {"data": {"values": [{"label": "DJFM"}]},
    "mark": {"type": "text", "fontSize": 23, "fontWeight": "bold", "color": "black"},
    "encoding": {"x": {"datum": 210.7}, "y": {"datum": 240.1}, "text": {"field": "label"}}},
   {"data": {"values": [{"label": "R"}]},
    "mark": {"type": "text", "fontSize": 23, "fontStyle": "italic", "align": "right", "color": "black"},
    "encoding": {"x": {"datum": 235.8}, "y": {"datum": 205.5}, "text": {"field": "label"}}},
   {"data": {"values": [{"label": "= 1.0"}]},
    "mark": {"type": "text", "fontSize": 23, "align": "left", "color": "black"},
    "encoding": {"x": {"datum": 236.6}, "y": {"datum": 205.5}, "text": {"field": "label"}}}
  ]},
  {"width": 309, "height": 262,
   "title": {"text": "b)", "anchor": "start", "frame": "group", "fontSize": 24, "fontWeight": "normal", "offset": 9, "dx": 5},
   "layer": [
    {"data": {"name": "prof"},
     "transform": [{"filter": "datum.season == 'SON' && datum.station != 'Mean'"}, {"fold": ["merra", "sonde"], "as": ["src", "temp"]}],
     "mark": {"type": "line", "strokeWidth": 1.6, "clip": true},
     "encoding": {
      "x": {"field": "temp", "type": "quantitative", "scale": {"domain": [200, 245], "nice": false, "zero": false},
            "axis": {"title": "Temperature K", "values": [200,205,210,215,220,225,230,235,240,245], "labelExpr": "datum.value % 10 == 0 ? datum.label : ''",
                     "gridDash": {"condition": {"test": "datum.value % 10 == 0", "value": [4,3]}, "value": [1,0]},
                     "gridColor": {"condition": {"test": "datum.value % 10 == 0", "value": "#aaaaaa"}, "value": "#e6e6e6"},
                     "tickSize": {"condition": {"test": "datum.value % 10 == 0", "value": 5}, "value": 3}}},
      "y": {"field": "alt", "type": "quantitative", "scale": {"domain": [12.5, 27.5], "nice": false, "zero": false},
            "axis": {"title": "Altitude (km)", "titleFontSize": 33, "titlePadding": 4, "values": [12.5,13.75,15,16.25,17.5,18.75,20,21.25,22.5,23.75,25,26.25,27.5], "format": ".1f",
                     "labelExpr": "datum.value % 2.5 == 0 ? datum.label : ''",
                     "gridDash": {"condition": {"test": "datum.value % 2.5 == 0", "value": [4,3]}, "value": [1,0]},
                     "gridColor": {"condition": {"test": "datum.value % 2.5 == 0", "value": "#aaaaaa"}, "value": "#e6e6e6"},
                     "tickSize": {"condition": {"test": "datum.value % 2.5 == 0", "value": 5}, "value": 3}}},
      "color": {"field": "station", "type": "nominal",
                "scale": {"domain": ["Marambio","Neumayer","Syowa","Davis","Dumont d'Urville","Amundsen-Scott","Belgrano II"], "range": ["#2553d9","#d62728","#2ca02c","#9467bd","#ff7f0e","#bcbd22","#17becf"]},
                "legend": {"title": null, "orient": "none", "legendX": 1428, "legendY": -21, "symbolType": "stroke", "symbolSize": 1936, "symbolStrokeWidth": 2.5, "labelFontSize": 22, "labelColor": "#111", "labelOffset": 14, "rowPadding": 9, "labelLimit": 300,
                           "labelExpr": "datum.value == \"Dumont d'Urville\" ? ['Dumont', \"d'Urville\"] : datum.value == 'Amundsen-Scott' ? ['Amundsen-', 'Scott'] : datum.label"}},
      "strokeDash": {"field": "src", "type": "nominal", "scale": {"domain": ["merra", "sonde"], "range": [[1,0],[7,4]]},
                     "legend": {"title": null, "orient": "top-left", "offset": 16, "clipHeight": 22, "symbolType": "stroke", "symbolSize": 1936, "symbolStrokeWidth": 3.5, "symbolStrokeColor": "black", "labelFontSize": 20, "labelOffset": 14, "rowPadding": 2, "labelExpr": "datum.value == 'merra' ? 'MERRA-2' : 'Sondes'"}},
      "order": {"field": "alt", "type": "quantitative"}
     }},
    {"data": {"name": "prof"},
     "transform": [{"filter": "datum.season == 'SON' && datum.station == 'Mean'"}, {"fold": ["merra", "sonde"], "as": ["src", "temp"]}],
     "mark": {"type": "line", "strokeWidth": 3.5, "color": "black", "clip": true},
     "encoding": {
      "x": {"field": "temp", "type": "quantitative"},
      "y": {"field": "alt", "type": "quantitative"},
      "strokeDash": {"field": "src", "type": "nominal"},
      "order": {"field": "alt", "type": "quantitative"}
     }},
    {"data": {"values": [{"label": "SON"}]},
     "mark": {"type": "text", "fontSize": 25, "fontWeight": "bold", "color": "black"},
     "encoding": {"x": {"datum": 237.5}, "y": {"datum": 14.5}, "text": {"field": "label"}}}
   ]},
  {"width": 309, "height": 262,
   "title": {"text": "d)", "anchor": "start", "frame": "group", "fontSize": 24, "fontWeight": "normal", "offset": 9, "dx": 5},
   "layer": [
    {"data": {"name": "prof"},
     "transform": [{"filter": "datum.season == 'SON' && datum.station != 'Mean'"}, {"fold": ["mbe", "rmse"], "as": ["metric", "val"]}],
     "mark": {"type": "line", "strokeWidth": 1.6, "clip": true},
     "encoding": {
      "x": {"field": "val", "type": "quantitative", "scale": {"domain": [-5, 7], "nice": false, "zero": false},
            "axis": {"title": "MBE and RMSE (K)", "values": [-4,-2,0,2,4,6], "format": "d",
                     "gridDash": {"condition": {"test": "datum.value == 0", "value": [6,4]}, "value": [4,3]},
                     "gridWidth": {"condition": {"test": "datum.value == 0", "value": 1.6}, "value": 1},
                     "gridColor": {"condition": {"test": "datum.value == 0", "value": "#808080"}, "value": "#aaaaaa"},
                     "tickSize": 5}},
      "y": {"field": "alt", "type": "quantitative", "scale": {"domain": [12.5, 27.5], "nice": false, "zero": false},
            "axis": {"title": null, "values": [12.5,13.75,15,16.25,17.5,18.75,20,21.25,22.5,23.75,25,26.25,27.5], "format": ".1f",
                     "labelExpr": "datum.value % 2.5 == 0 ? datum.label : ''",
                     "gridDash": {"condition": {"test": "datum.value % 2.5 == 0", "value": [4,3]}, "value": [1,0]},
                     "gridColor": {"condition": {"test": "datum.value % 2.5 == 0", "value": "#aaaaaa"}, "value": "#e6e6e6"},
                     "tickSize": {"condition": {"test": "datum.value % 2.5 == 0", "value": 5}, "value": 3}}},
      "color": {"field": "station", "type": "nominal",
                "scale": {"domain": ["Marambio","Neumayer","Syowa","Davis","Dumont d'Urville","Amundsen-Scott","Belgrano II"], "range": ["#2553d9","#d62728","#2ca02c","#9467bd","#ff7f0e","#bcbd22","#17becf"]},
                "legend": {"title": null, "orient": "none", "legendX": 1428, "legendY": -21, "symbolType": "stroke", "symbolSize": 1936, "symbolStrokeWidth": 2.5, "labelFontSize": 22, "labelColor": "#111", "labelOffset": 14, "rowPadding": 9, "labelLimit": 300,
                           "labelExpr": "datum.value == \"Dumont d'Urville\" ? ['Dumont', \"d'Urville\"] : datum.value == 'Amundsen-Scott' ? ['Amundsen-', 'Scott'] : datum.label"}},
      "strokeDash": {"field": "metric", "type": "nominal", "scale": {"domain": ["mbe", "rmse"], "range": [[1,0],[7,4]]},
                     "legend": {"title": null, "orient": "top-right", "offset": 17, "clipHeight": 22, "symbolType": "stroke", "symbolSize": 1936, "symbolStrokeWidth": 3.5, "symbolStrokeColor": "black", "labelFontSize": 20, "labelOffset": 14, "rowPadding": 2, "labelExpr": "upper(datum.value)"}},
      "order": {"field": "alt", "type": "quantitative"}
     }},
    {"data": {"name": "prof"},
     "transform": [{"filter": "datum.season == 'SON' && datum.station == 'Mean'"}, {"fold": ["mbe", "rmse"], "as": ["metric", "val"]}],
     "mark": {"type": "line", "strokeWidth": 3.5, "color": "black", "clip": true},
     "encoding": {
      "x": {"field": "val", "type": "quantitative"},
      "y": {"field": "alt", "type": "quantitative"},
      "strokeDash": {"field": "metric", "type": "nominal"},
      "order": {"field": "alt", "type": "quantitative"}
     }},
    {"data": {"values": [{"label": "SON"}]},
     "mark": {"type": "text", "fontSize": 25, "fontWeight": "bold", "color": "black"},
     "encoding": {"x": {"datum": 5.05}, "y": {"datum": 14.5}, "text": {"field": "label"}}}
   ]},
  {"width": 309, "height": 262,
   "title": {"text": "f)", "anchor": "start", "frame": "group", "fontSize": 24, "fontWeight": "normal", "offset": 9, "dx": 5},
   "layer": [
    {"data": {"name": "prof"},
     "transform": [{"filter": "datum.season == 'SON' && datum.station != 'Mean'"}],
     "mark": {"type": "line", "strokeWidth": 2, "clip": true},
     "encoding": {
      "x": {"field": "r", "type": "quantitative", "scale": {"domain": [0.8, 1.0], "nice": false, "zero": false},
            "axis": {"title": "R Coefficient", "format": ".2f", "values": [0.8,0.825,0.85,0.875,0.9,0.925,0.95,0.975,1.0], "labelExpr": "abs(datum.value*20 - round(datum.value*20)) < 0.001 ? datum.label : ''",
                     "gridDash": {"condition": {"test": "abs(datum.value*20 - round(datum.value*20)) < 0.001", "value": [4,3]}, "value": [1,0]},
                     "gridColor": {"condition": {"test": "abs(datum.value*20 - round(datum.value*20)) < 0.001", "value": "#aaaaaa"}, "value": "#e6e6e6"},
                     "tickSize": {"condition": {"test": "abs(datum.value*20 - round(datum.value*20)) < 0.001", "value": 5}, "value": 3}}},
      "y": {"field": "alt", "type": "quantitative", "scale": {"domain": [12.5, 27.5], "nice": false, "zero": false},
            "axis": {"title": null, "values": [12.5,13.75,15,16.25,17.5,18.75,20,21.25,22.5,23.75,25,26.25,27.5], "format": ".1f",
                     "labelExpr": "datum.value % 2.5 == 0 ? datum.label : ''",
                     "gridDash": {"condition": {"test": "datum.value % 2.5 == 0", "value": [4,3]}, "value": [1,0]},
                     "gridColor": {"condition": {"test": "datum.value % 2.5 == 0", "value": "#aaaaaa"}, "value": "#e6e6e6"},
                     "tickSize": {"condition": {"test": "datum.value % 2.5 == 0", "value": 5}, "value": 3}}},
      "color": {"field": "station", "type": "nominal",
                "scale": {"domain": ["Marambio","Neumayer","Syowa","Davis","Dumont d'Urville","Amundsen-Scott","Belgrano II"], "range": ["#2553d9","#d62728","#2ca02c","#9467bd","#ff7f0e","#bcbd22","#17becf"]},
                "legend": {"title": null, "orient": "none", "legendX": 1428, "legendY": -21, "symbolType": "stroke", "symbolSize": 1936, "symbolStrokeWidth": 2.5, "labelFontSize": 22, "labelColor": "#111", "labelOffset": 14, "rowPadding": 9, "labelLimit": 300,
                           "labelExpr": "datum.value == \"Dumont d'Urville\" ? ['Dumont', \"d'Urville\"] : datum.value == 'Amundsen-Scott' ? ['Amundsen-', 'Scott'] : datum.label"}},
      "order": {"field": "alt", "type": "quantitative"}
     }},
    {"data": {"values": [{"label": "SON"}]},
     "mark": {"type": "text", "fontSize": 25, "fontWeight": "bold", "color": "black"},
     "encoding": {"x": {"datum": 0.839}, "y": {"datum": 14.5}, "text": {"field": "label"}}}
   ]},
 {"width": 234, "height": 262,
  "title": {"text": "h)", "anchor": "start", "frame": "group", "fontSize": 24, "fontWeight": "normal", "offset": 9, "dx": 5},
  "layer": [
   {"data": {"name": "fit"},
    "mark": {"type": "line", "color": "black", "strokeWidth": 2.5, "clip": true},
    "encoding": {
     "x": {"field": "sx", "type": "quantitative", "scale": {"domain": [200, 250], "nice": false, "zero": false},
           "axis": {"title": "Sonde Temperature (K)", "titleFontSize": 22, "labelFontSize": 18, "values": [200,205,210,215,220,225,230,235,240,245,250], "labelExpr": "datum.value % 10 == 0 ? datum.label : ''",
                    "gridDash": {"condition": {"test": "datum.value % 10 == 0", "value": [4,3]}, "value": [1,0]},
                    "gridColor": {"condition": {"test": "datum.value % 10 == 0", "value": "#aaaaaa"}, "value": "#e6e6e6"},
                    "tickSize": {"condition": {"test": "datum.value % 10 == 0", "value": 5}, "value": 3}}},
     "y": {"field": "fit", "type": "quantitative", "scale": {"domain": [200, 250], "nice": false, "zero": false},
           "axis": {"title": "MERRA-2 Temperature (K)", "titleFontSize": 22, "titlePadding": 4, "labelFontSize": 18, "values": [200,205,210,215,220,225,230,235,240,245,250], "labelExpr": "datum.value % 10 == 0 ? datum.label : ''",
                    "gridDash": {"condition": {"test": "datum.value % 10 == 0", "value": [4,3]}, "value": [1,0]},
                    "gridColor": {"condition": {"test": "datum.value % 10 == 0", "value": "#aaaaaa"}, "value": "#e6e6e6"},
                    "tickSize": {"condition": {"test": "datum.value % 10 == 0", "value": 5}, "value": 3}}}
    }},
   {"data": {"name": "prof"},
    "transform": [{"filter": "datum.season == 'SON' && datum.station != 'Mean'"}],
    "mark": {"type": "point", "filled": true, "size": 45, "opacity": 0.85},
    "encoding": {
     "x": {"field": "sonde", "type": "quantitative"},
     "y": {"field": "merra", "type": "quantitative"},
     "color": {"field": "station", "type": "nominal",
               "scale": {"domain": ["Marambio","Neumayer","Syowa","Davis","Dumont d'Urville","Amundsen-Scott","Belgrano II"], "range": ["#2553d9","#d62728","#2ca02c","#9467bd","#ff7f0e","#bcbd22","#17becf"]},
               "legend": {"title": null, "orient": "none", "legendX": 1428, "legendY": -21, "symbolType": "stroke", "symbolSize": 1936, "symbolStrokeWidth": 2.5, "labelFontSize": 22, "labelColor": "#111", "labelOffset": 14, "rowPadding": 9, "labelLimit": 300,
                          "labelExpr": "datum.value == \"Dumont d'Urville\" ? ['Dumont', \"d'Urville\"] : datum.value == 'Amundsen-Scott' ? ['Amundsen-', 'Scott'] : datum.label"}}
    }},
   {"data": {"values": [{"label": "SON"}]},
    "mark": {"type": "text", "fontSize": 23, "fontWeight": "bold", "color": "black"},
    "encoding": {"x": {"datum": 209.6}, "y": {"datum": 240.1}, "text": {"field": "label"}}},
   {"data": {"values": [{"label": "R"}]},
    "mark": {"type": "text", "fontSize": 23, "fontStyle": "italic", "align": "right", "color": "black"},
    "encoding": {"x": {"datum": 235.8}, "y": {"datum": 205.7}, "text": {"field": "label"}}},
   {"data": {"values": [{"label": "= 1.0"}]},
    "mark": {"type": "text", "fontSize": 23, "align": "left", "color": "black"},
    "encoding": {"x": {"datum": 236.6}, "y": {"datum": 205.7}, "text": {"field": "label"}}}
  ]}
],
"config": {
 "font": "Liberation Sans",
 "view": {"stroke": "#333333", "strokeWidth": 1.2},
 "line": {"color": "black"},
 "title": {"font": "Liberation Sans", "color": "#111111"},
 "legend": {"labelFont": "Liberation Sans"},
 "axis": {"domain": false, "labelFont": "Liberation Sans", "labelFontSize": 23, "labelColor": "#222222", "labelPadding": 3, "labelFlush": false, "labelOverlap": false,
          "tickColor": "#555555", "gridWidth": 1, "titleFont": "Liberation Sans", "titleFontWeight": "normal", "titleFontSize": 28, "titleColor": "#111111", "titlePadding": 8}
}
}
